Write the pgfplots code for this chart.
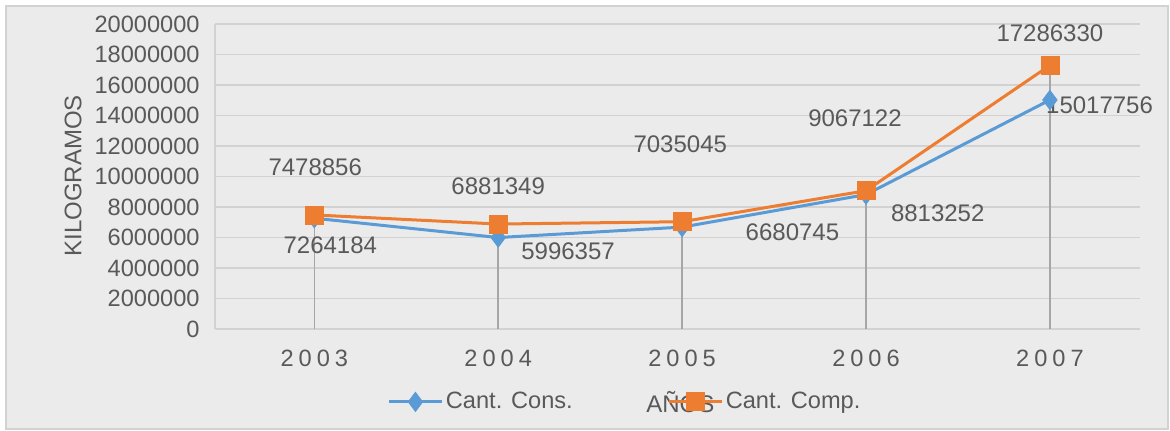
\documentclass[border=0pt]{standalone}
\usepackage{pgfplots}
\pgfplotsset{compat=1.18}
\usepackage{fontspec}
\setmainfont{Liberation Sans}
\definecolor{cblue}{HTML}{5B9BD5}
\definecolor{corange}{HTML}{ED7D31}
\definecolor{tgray}{HTML}{595959}
\definecolor{bggray}{HTML}{EBEBEB}
\definecolor{gridgray}{HTML}{D2D2D2}
\definecolor{dropgray}{HTML}{A6A6A6}
\newcommand{\yr}[4]{#1\kern2.5pt#2\kern2.5pt#3\kern2.5pt#4}
\begin{document}
\begin{tikzpicture}
\path[use as bounding box, fill=white] (-107.5pt,-51pt) rectangle (477.5pt,164.5pt);
\filldraw[fill=bggray, draw=gridgray, line width=0.75pt] (-104.5pt,-50pt) rectangle (476.5pt,161.5pt);
\begin{axis}[
  at={(0pt,0pt)}, anchor=south west,
  scale only axis, width=462.5pt, height=152.5pt,
  xmin=-0.54, xmax=4.49, ymin=0, ymax=20000000,
  xtick={0,1,2,3,4},
  xticklabels={\yr2003,\yr2004,\yr2005,\yr2006,\yr2007},
  ytick={0,2000000,4000000,6000000,8000000,10000000,12000000,14000000,16000000,18000000,20000000},
  scaled y ticks=false,
  yticklabel style={/pgf/number format/fixed, /pgf/number format/1000 sep={}, /pgf/number format/precision=0,
    anchor=east, inner sep=0pt, xshift=-7.5pt},
  xticklabel style={anchor=center, inner sep=0pt, yshift=-14.5pt},
  /pgf/number format/assume math mode=true,
  ticklabel style={font=\fontsize{11.8}{14}\selectfont, text=tgray},
  major tick length=0pt,
  ymajorgrids, grid style={gridgray, line width=0.75pt},
  axis x line*=bottom, axis y line*=left,
  axis line style={gridgray, line width=0.75pt},
  xlabel={AÑOS},
  xlabel style={at={(axis description cs:0.503,-0.239)}, anchor=center, font=\fontsize{12}{14}\selectfont, text=tgray},
  ylabel={KILOGRAMOS},
  ylabel style={at={(axis description cs:-0.1535,0.502)}, anchor=center, rotate=0, font=\fontsize{12}{14}\selectfont, text=tgray},
  legend entries={Cant. Cons., Cant. Comp.},
  legend style={at={(axis description cs:0.186,-0.239)}, anchor=west, draw=none, fill=none,
    legend columns=2, font=\fontsize{11.8}{14}\selectfont, text=tgray, inner sep=0pt,
    nodes={inner xsep=1.25pt, inner ysep=0pt},
    /tikz/every even column/.append style={column sep=46pt}},
  legend image code/.code={\draw[mark repeat=2,mark phase=2] plot coordinates {(0pt,0pt) (13.25pt,0pt) (26.5pt,0pt)};},
  clip=false,
]
\addplot[cblue, line width=1.5pt, mark=diamond*, mark size=4.8pt, mark options={line width=0.4pt}]
  coordinates {(0,7264184) (1,5996357) (2,6680745) (3,8813252) (4,15017756)};
\addplot[corange, line width=1.5pt, mark=square*, mark size=4.5pt, mark options={line width=0.4pt}]
  coordinates {(0,7478856) (1,6881349) (2,7035045) (3,9067122) (4,17286330)};
\addplot[ycomb, dropgray, line width=0.75pt, no marks, forget plot]
  coordinates {(0,7478856) (1,6881349) (2,7035045) (3,9067122) (4,17286330)};
\begin{scope}[every node/.style={font=\fontsize{12}{14}\selectfont, text=tgray, anchor=center}]
\node at (axis cs:0.087,5510000) {7264184};
\node at (axis cs:1.38,5110000) {5996357};
\node at (axis cs:2.60,6360000) {6680745};
\node at (axis cs:3.39,7610000) {8813252};
\node at (axis cs:4.27,14690000) {15017756};
\node at (axis cs:0.005,10620000) {7478856};
\node at (axis cs:1.0,9380000) {6881349};
\node at (axis cs:1.99,12130000) {7035045};
\node at (axis cs:2.94,13840000) {9067122};
\node at (axis cs:4.0,19410000) {17286330};
\end{scope}
\end{axis}
\end{tikzpicture}
\end{document}
